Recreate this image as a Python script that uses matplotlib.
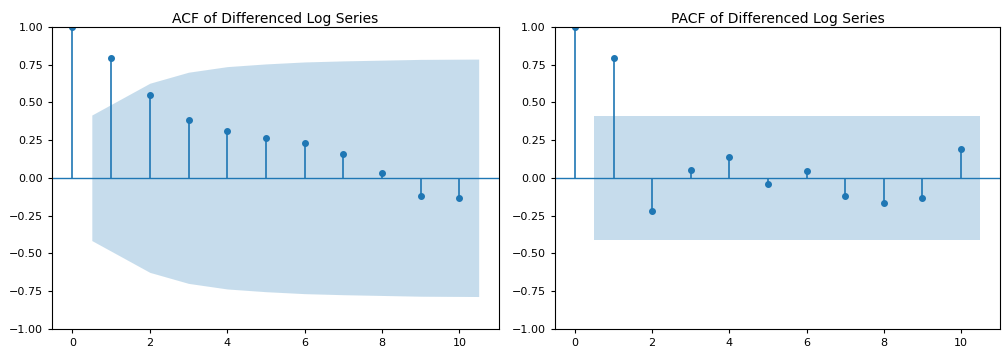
import numpy as np
import matplotlib
matplotlib.use("Agg")
import matplotlib.pyplot as plt

# lags 0..10
lags = np.arange(0, 11)

# autocorrelation values
acf_vals = [1.0, 0.795, 0.55, 0.38, 0.312, 0.266, 0.233, 0.158, 0.034, -0.119, -0.136]
# half width of the ACF confidence band at lags 1..10
acf_band = [0.416, 0.627, 0.70, 0.737, 0.755, 0.768, 0.775, 0.780, 0.785, 0.787]

# partial autocorrelation values
pacf_vals = [1.0, 0.795, -0.22, 0.052, 0.14, -0.043, 0.047, -0.119, -0.167, -0.132, 0.189]
# half width of the PACF confidence band at lags 1..10
pacf_band = [0.41] * 10

titles = ["ACF of Differenced Log Series", "PACF of Differenced Log Series"]

fig = plt.figure(figsize=(10.03, 3.5), dpi=100)
ax1 = fig.add_axes([0.052, 0.061, 0.4455, 0.862])
ax2 = fig.add_axes([0.553, 0.061, 0.4445, 0.862])

def draw_cf(ax, vals, band, title):
    ax.vlines(lags, 0, vals, color="C0", lw=1.2)
    ax.plot(lags, vals, "o", color="C0", markersize=4)
    ax.axhline(0, color="C0", lw=1.0)
    # band x positions like statsmodels: first shifted left, last shifted right
    bx = lags[1:].astype(float)
    bx[0] -= 0.5
    bx[-1] += 0.5
    band = np.array(band)
    ax.fill_between(bx, -band, band, color="C0", alpha=0.25, lw=0)
    ax.set_xlim(-0.525, 11.025)
    ax.set_ylim(-1.0, 1.0)
    ax.set_yticks([-1.0, -0.75, -0.5, -0.25, 0.0, 0.25, 0.5, 0.75, 1.0])
    ax.set_xticks([0, 2, 4, 6, 8, 10])
    ax.tick_params(labelsize=8, length=3)
    ax.set_title(title, fontsize=10, pad=3)
    for s in ax.spines.values():
        s.set_linewidth(0.8)

draw_cf(ax1, acf_vals, acf_band, titles[0])
draw_cf(ax2, pacf_vals, pacf_band, titles[1])

plt.savefig("out.png", dpi=100)
